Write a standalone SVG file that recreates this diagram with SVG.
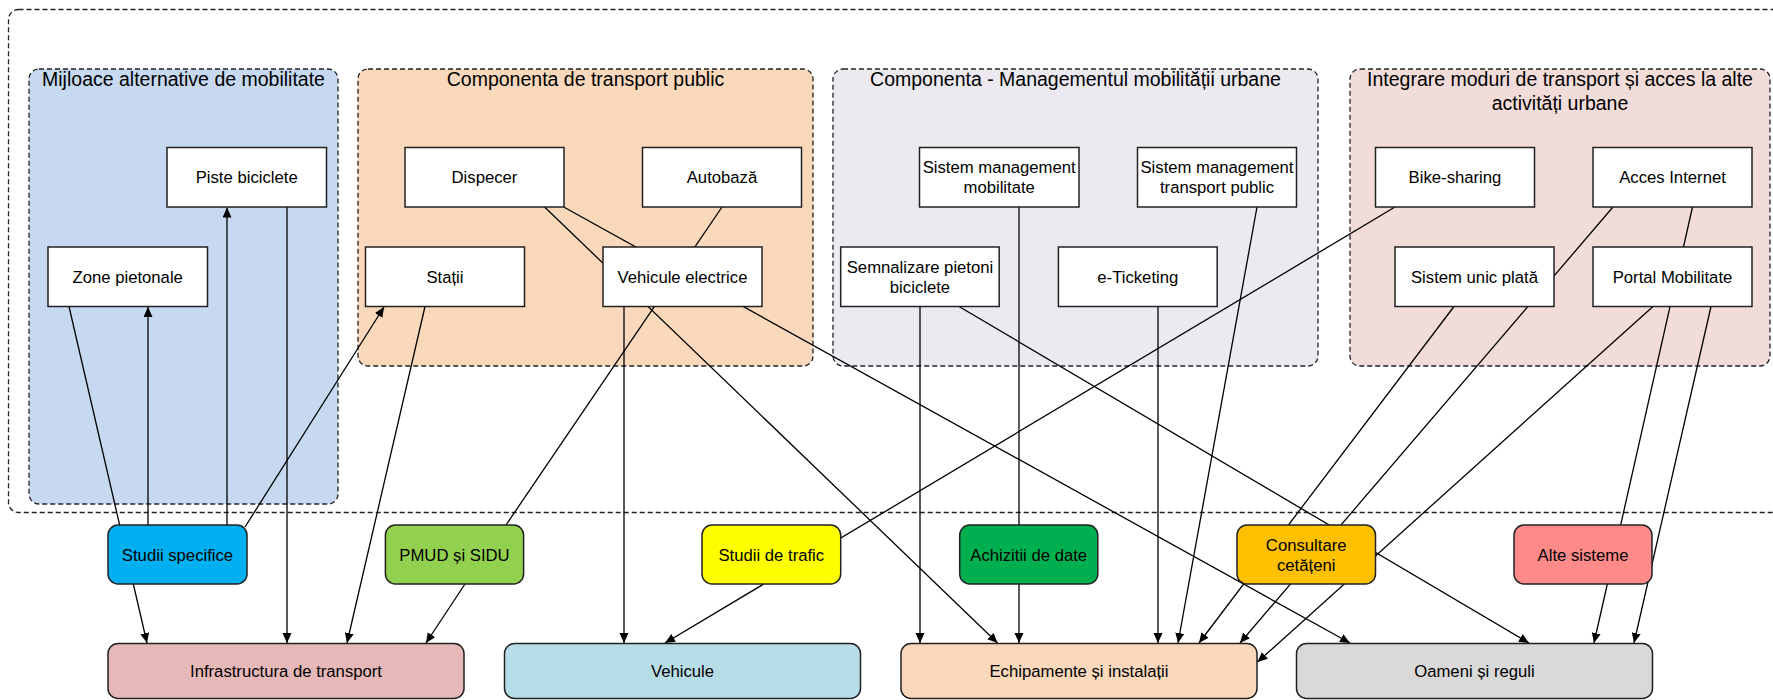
<svg xmlns="http://www.w3.org/2000/svg" width="1773" height="700" viewBox="0 0 1773 700">
  <defs>
    <marker id="arrow" markerUnits="userSpaceOnUse" markerWidth="11" markerHeight="10" refX="10" refY="4.5" orient="auto">
      <path d="M0,0 L10,4.5 L0,9 Z" fill="#000"/>
    </marker>
  </defs>
  <style>
    text { font-family: "Liberation Sans", Arial, sans-serif; fill: #000; text-anchor: middle; }
    .container { fill: none; stroke: #222; stroke-width: 1.3; stroke-dasharray: 5 3; }
    .group { stroke: #222; stroke-width: 1.3; stroke-dasharray: 5 3; }
    .gtitle { font-size: 19.5px; }
    .box { fill: #fff; stroke: #222; stroke-width: 1.5; }
    .node { stroke: #222; stroke-width: 1.5; }
    .lbl { font-size: 16.7px; }
    .edge { fill: none; stroke: #000; stroke-width: 1.3; }
    .arr { marker-end: url(#arrow); }
  </style>

  <!-- outer frame -->
  <rect class="container" x="8.5" y="9.5" width="1800" height="503" rx="10"/>

  <!-- subsystem groups -->
  <g id="grp-mijloace">
    <rect class="group" x="29" y="69" width="309" height="435" rx="10" fill="#C6D9F0"/>
    <text class="gtitle" x="183.5" y="86">Mijloace alternative de mobilitate</text>
  </g>
  <g id="grp-transport-public">
    <rect class="group" x="358" y="69" width="455" height="297" rx="10" fill="#FAD8BC"/>
    <text class="gtitle" x="585.5" y="86">Componenta de transport public</text>
  </g>
  <g id="grp-management">
    <rect class="group" x="833" y="69" width="485" height="297" rx="10" fill="#ECE9F1"/>
    <text class="gtitle" x="1075.5" y="86">Componenta - Managementul mobilității urbane</text>
  </g>
  <g id="grp-integrare">
    <rect class="group" x="1350" y="69" width="420" height="297" rx="10" fill="#F1DCDA"/>
    <text class="gtitle" x="1560" y="86">Integrare moduri de transport și acces la alte</text>
    <text class="gtitle" x="1560" y="110">activități urbane</text>
  </g>

  <!-- connectors -->
  <g id="connectors">
    <line class="edge arr" x1="69" y1="306.5" x2="147" y2="643"/>
    <line class="edge arr" x1="148" y1="525" x2="148" y2="307"/>
    <line class="edge arr" x1="227" y1="525" x2="227" y2="207.5"/>
    <line class="edge arr" x1="287" y1="207" x2="287" y2="643"/>
    <line class="edge arr" x1="245" y1="527" x2="384" y2="307"/>
    <line class="edge arr" x1="425" y1="306.5" x2="347" y2="643"/>
    <line class="edge arr" x1="465" y1="584" x2="426" y2="643"/>
    <line class="edge" x1="722" y1="207" x2="506" y2="525"/>
    <line class="edge arr" x1="544.6" y1="207" x2="997.6" y2="643"/>
    <line class="edge arr" x1="563.7" y1="207" x2="1350" y2="643"/>
    <line class="edge arr" x1="624" y1="306.5" x2="624" y2="643"/>
    <line class="edge arr" x1="920" y1="306.5" x2="920" y2="643"/>
    <line class="edge arr" x1="959" y1="306.5" x2="1529" y2="643"/>
    <line class="edge arr" x1="1019" y1="207" x2="1019" y2="643"/>
    <line class="edge arr" x1="1158" y1="306.5" x2="1158" y2="643"/>
    <line class="edge arr" x1="1257" y1="207" x2="1178" y2="643"/>
    <line class="edge arr" x1="1395" y1="207" x2="665" y2="643"/>
    <line class="edge arr" x1="1613" y1="207" x2="1240" y2="643"/>
    <line class="edge arr" x1="1454" y1="306.5" x2="1199" y2="643"/>
    <line class="edge arr" x1="1653" y1="306.5" x2="1257.5" y2="662"/>
    <line class="edge arr" x1="1692.5" y1="207" x2="1594" y2="643"/>
    <line class="edge arr" x1="1711" y1="306.5" x2="1634" y2="643"/>
  </g>

  <!-- components: alternative mobility -->
  <g id="piste-biciclete">
    <rect class="box" x="167" y="147.5" width="159.5" height="59.5"/>
    <text class="lbl" x="246.7" y="183">Piste biciclete</text>
  </g>
  <g id="zone-pietonale">
    <rect class="box" x="48" y="247" width="159.5" height="59.5"/>
    <text class="lbl" x="127.7" y="282.5">Zone pietonale</text>
  </g>

  <!-- components: public transport -->
  <g id="dispecer">
    <rect class="box" x="405" y="147.5" width="159" height="59.5"/>
    <text class="lbl" x="484.5" y="183">Dispecer</text>
  </g>
  <g id="autobaza">
    <rect class="box" x="642.5" y="147.5" width="159" height="59.5"/>
    <text class="lbl" x="722" y="183">Autobază</text>
  </g>
  <g id="statii">
    <rect class="box" x="365.5" y="247" width="159" height="59.5"/>
    <text class="lbl" x="445" y="282.5">Stații</text>
  </g>
  <g id="vehicule-electrice">
    <rect class="box" x="603" y="247" width="159" height="59.5"/>
    <text class="lbl" x="682.5" y="282.5">Vehicule electrice</text>
  </g>

  <!-- components: mobility management -->
  <g id="sistem-management-mobilitate">
    <rect class="box" x="919.5" y="147.5" width="159.5" height="59.5"/>
    <text class="lbl" x="999.2" y="173">Sistem management</text>
    <text class="lbl" x="999.2" y="193">mobilitate</text>
  </g>
  <g id="sistem-management-transport">
    <rect class="box" x="1137.5" y="147.5" width="159" height="59.5"/>
    <text class="lbl" x="1217" y="173">Sistem management</text>
    <text class="lbl" x="1217" y="193">transport public</text>
  </g>
  <g id="semnalizare">
    <rect class="box" x="840.7" y="247" width="158.5" height="59.5"/>
    <text class="lbl" x="920" y="272.5">Semnalizare pietoni</text>
    <text class="lbl" x="920" y="292.5">biciclete</text>
  </g>
  <g id="e-ticketing">
    <rect class="box" x="1058.4" y="247" width="158.8" height="59.5"/>
    <text class="lbl" x="1137.8" y="282.5">e-Ticketing</text>
  </g>

  <!-- components: integration -->
  <g id="bike-sharing">
    <rect class="box" x="1375.5" y="147.5" width="159" height="59.5"/>
    <text class="lbl" x="1455" y="183">Bike-sharing</text>
  </g>
  <g id="acces-internet">
    <rect class="box" x="1593" y="147.5" width="159" height="59.5"/>
    <text class="lbl" x="1672.5" y="183">Acces Internet</text>
  </g>
  <g id="sistem-unic-plata">
    <rect class="box" x="1395" y="247" width="159" height="59.5"/>
    <text class="lbl" x="1474.5" y="282.5">Sistem unic plată</text>
  </g>
  <g id="portal-mobilitate">
    <rect class="box" x="1593" y="247" width="159" height="59.5"/>
    <text class="lbl" x="1672.5" y="282.5">Portal Mobilitate</text>
  </g>

  <!-- inputs -->
  <g id="studii-specifice">
    <rect class="node" x="108" y="525" width="139" height="59" rx="10" fill="#00B0F0"/>
    <text class="lbl" x="177.5" y="560.5">Studii specifice</text>
  </g>
  <g id="pmud-sidu">
    <rect class="node" x="385.4" y="525" width="138.2" height="59" rx="10" fill="#92D050"/>
    <text class="lbl" x="454.5" y="560.5">PMUD și SIDU</text>
  </g>
  <g id="studii-trafic">
    <rect class="node" x="702" y="525" width="138.7" height="59" rx="10" fill="#FFFF00"/>
    <text class="lbl" x="771.3" y="560.5">Studii de trafic</text>
  </g>
  <g id="achizitii-date">
    <rect class="node" x="959.7" y="525" width="138.1" height="59" rx="10" fill="#00B050"/>
    <text class="lbl" x="1028.7" y="560.5">Achizitii de date</text>
  </g>
  <g id="consultare">
    <rect class="node" x="1237" y="525" width="138.5" height="59" rx="10" fill="#FFC000"/>
    <text class="lbl" x="1306.2" y="550.5">Consultare</text>
    <text class="lbl" x="1306.2" y="570.5">cetățeni</text>
  </g>
  <g id="alte-sisteme">
    <rect class="node" x="1514" y="525" width="138" height="59" rx="10" fill="#FF8A8A"/>
    <text class="lbl" x="1583" y="560.5">Alte sisteme</text>
  </g>

  <!-- categories -->
  <g id="infrastructura">
    <rect class="node" x="108" y="643.5" width="356" height="55" rx="10" fill="#E6B9B8"/>
    <text class="lbl" x="286" y="677">Infrastructura de transport</text>
  </g>
  <g id="vehicule">
    <rect class="node" x="504.5" y="643.5" width="356" height="55" rx="10" fill="#B7DDE8"/>
    <text class="lbl" x="682.5" y="677">Vehicule</text>
  </g>
  <g id="echipamente">
    <rect class="node" x="901" y="643.5" width="356" height="55" rx="10" fill="#FAD8BC"/>
    <text class="lbl" x="1079" y="677">Echipamente și instalații</text>
  </g>
  <g id="oameni">
    <rect class="node" x="1296.5" y="643.5" width="356" height="55" rx="10" fill="#D9D9D9"/>
    <text class="lbl" x="1474.5" y="677">Oameni și reguli</text>
  </g>
</svg>
